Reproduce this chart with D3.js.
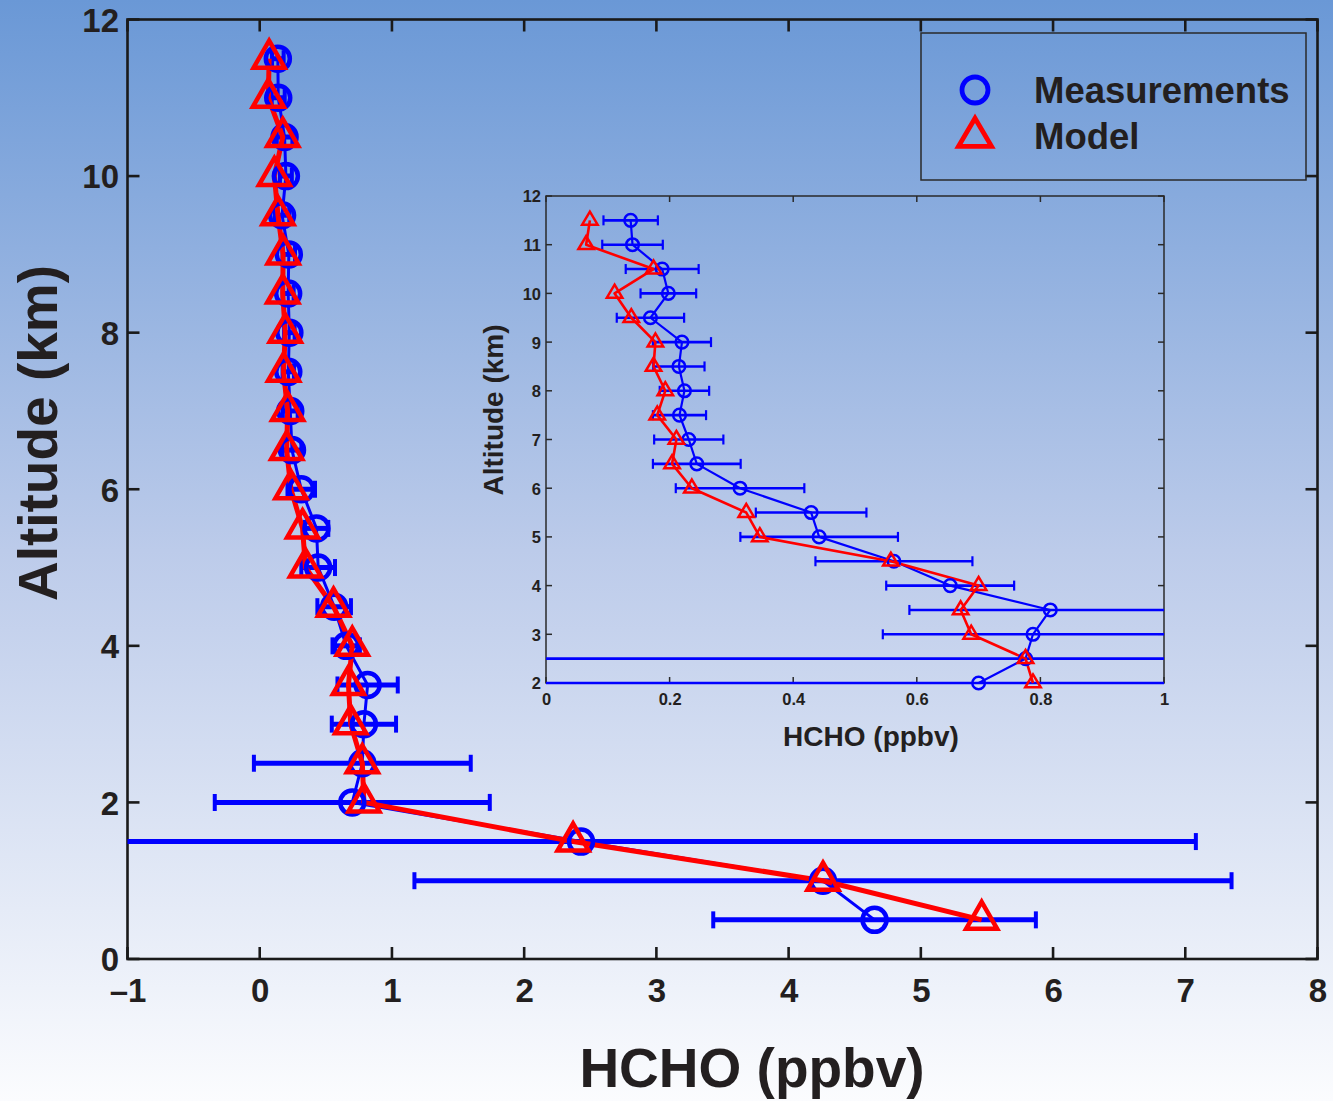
<!DOCTYPE html>
<html>
<head>
<meta charset="utf-8">
<script src="https://cdn.jsdelivr.net/npm/d3@7"></script>
<style>
  html, body { margin: 0; padding: 0; background: #ffffff; }
  svg { display: block; }
  text { font-family: "Liberation Sans", Arial, Helvetica, sans-serif; font-weight: bold; fill: #231f20; }
</style>
</head>
<body>
<svg id="chart" width="1333" height="1101"></svg>
<script>
// ---------------- DATA ----------------
const altitudes = [0.5, 1.0, 1.5, 2.0, 2.5, 3.0, 3.5, 4.0, 4.5, 5.0, 5.5, 6.0, 6.5, 7.0, 7.5, 8.0, 8.5, 9.0, 9.5, 10.0, 10.5, 11.0, 11.5];
const measurements = [4.65, 4.26, 2.43, 0.70, 0.776, 0.788, 0.816, 0.654, 0.563, 0.442, 0.429, 0.314, 0.244, 0.231, 0.216, 0.224, 0.215, 0.220, 0.169, 0.198, 0.188, 0.140, 0.137];
const measurementErrors = [1.22, 3.09, 4.65, 1.04, 0.82, 0.243, 0.228, 0.1035, 0.127, 0.1275, 0.0895, 0.104, 0.071, 0.056, 0.043, 0.040, 0.0415, 0.047, 0.0545, 0.045, 0.059, 0.049, 0.044];
const model = [5.46, 4.26, 2.37, 0.788, 0.776, 0.688, 0.671, 0.700, 0.558, 0.346, 0.324, 0.236, 0.204, 0.211, 0.180, 0.193, 0.174, 0.177, 0.138, 0.111, 0.174, 0.065, 0.071];

const mainXTicks = [-1, 0, 1, 2, 3, 4, 5, 6, 7, 8];
const mainYTicks = [0, 2, 4, 6, 8, 10, 12];
const insetXTicks = [0, 0.2, 0.4, 0.6, 0.8, 1];
const insetYTicks = [2, 3, 4, 5, 6, 7, 8, 9, 10, 11, 12];
const seriesNames = ["Measurements", "Model"];
const xLabel = "HCHO (ppbv)";
const yLabel = "Altitude (km)";

const rows = altitudes.map((a, i) => ({ alt: a, meas: measurements[i], err: measurementErrors[i], mod: model[i] }));

// ---------------- SETUP ----------------
const W = 1333, H = 1101;
const svg = d3.select("#chart");
const defs = svg.append("defs");
const grad = defs.append("linearGradient").attr("id", "bg").attr("x1", 0).attr("y1", 0).attr("x2", 0).attr("y2", 1);
grad.append("stop").attr("offset", "0%").attr("stop-color", "#6a98d6");
grad.append("stop").attr("offset", "50%").attr("stop-color", "#bccbea");
grad.append("stop").attr("offset", "100%").attr("stop-color", "#fbfcfe");
svg.append("rect").attr("width", W).attr("height", H).attr("fill", "url(#bg)");

const BLUE = "#0000ff", RED = "#ff0000", AX = "#1a1a1a";

function triPath(w, h) {
  return `M0,${-2 * h / 3}L${w / 2},${h / 3}L${-w / 2},${h / 3}Z`;
}

function drawPanel(g, x, y, data, opt) {
  const [x0, x1] = x.range(), [y0, y1] = y.range();
  const clipId = opt.id + "clip";
  defs.append("clipPath").attr("id", clipId).append("rect")
    .attr("x", x0).attr("y", y1 - opt.pad).attr("width", x1 - x0).attr("height", y0 - y1 + 2 * opt.pad);

  // axes box
  const ax = g.append("g");
  ax.append("rect").attr("x", x0).attr("y", y1).attr("width", x1 - x0).attr("height", y0 - y1)
    .attr("fill", "none").attr("stroke", opt.axColor).attr("stroke-width", opt.axW);

  // inward ticks, mirrored
  const xt = ax.append("g");
  opt.xTicks.forEach(t => {
    const px = x(t);
    xt.append("line").attr("x1", px).attr("x2", px).attr("y1", y0).attr("y2", y0 - opt.tickLen)
      .attr("stroke", opt.axColor).attr("stroke-width", opt.axW);
    xt.append("line").attr("x1", px).attr("x2", px).attr("y1", y1).attr("y2", y1 + opt.tickLen)
      .attr("stroke", opt.axColor).attr("stroke-width", opt.axW);
  });
  opt.yTicks.forEach(t => {
    const py = y(t);
    xt.append("line").attr("x1", x0).attr("x2", x0 + opt.tickLen).attr("y1", py).attr("y2", py)
      .attr("stroke", opt.axColor).attr("stroke-width", opt.axW);
    xt.append("line").attr("x1", x1).attr("x2", x1 - opt.tickLen).attr("y1", py).attr("y2", py)
      .attr("stroke", opt.axColor).attr("stroke-width", opt.axW);
  });

  // tick labels via d3 axes (lines hidden)
  const xAxis = d3.axisBottom(x).tickValues(opt.xTicks).tickSize(0).tickPadding(0).tickFormat(opt.xFmt);
  const xg = g.append("g").attr("transform", `translate(0,${opt.xLabBase})`).call(xAxis);
  xg.select(".domain").remove();
  xg.selectAll("text").attr("dy", 0).attr("y", 0).style("font-size", opt.tickFont + "px")
    .style("font-family", '"Liberation Sans", Arial, sans-serif').style("font-weight", "bold").attr("fill", "#231f20");

  const yAxis = d3.axisLeft(y).tickValues(opt.yTicks).tickSize(0).tickPadding(0);
  const yg = g.append("g").attr("transform", `translate(${opt.yLabRight},0)`).call(yAxis);
  yg.select(".domain").remove();
  yg.selectAll("text").attr("x", 0).attr("dy", (opt.tickFont * 0.36) + "px").style("font-size", opt.tickFont + "px")
    .style("font-family", '"Liberation Sans", Arial, sans-serif').style("font-weight", "bold").attr("fill", "#231f20");

  // axis titles
  g.append("text").attr("x", opt.xTitle[0]).attr("y", opt.xTitle[1]).attr("text-anchor", "middle")
    .style("font-size", opt.titleFont + "px").text(xLabel);
  g.append("text").attr("transform", `translate(${opt.yTitle[0]},${opt.yTitle[1]}) rotate(-90)`)
    .attr("text-anchor", "middle").style("font-size", opt.titleFont + "px").text(yLabel);

  // data
  const clipped = g.append("g").attr("clip-path", `url(#${clipId})`);
  // error bars
  const eb = clipped.append("g").attr("stroke", BLUE).attr("fill", "none");
  data.forEach(d => {
    const lo = x(d.meas - d.err), hi = x(d.meas + d.err), py = y(d.alt);
    eb.append("line").attr("x1", lo).attr("x2", hi).attr("y1", py).attr("y2", py).attr("stroke-width", opt.ebW);
    [lo, hi].forEach(px => eb.append("line").attr("x1", px).attr("x2", px)
      .attr("y1", py - opt.capH / 2).attr("y2", py + opt.capH / 2).attr("stroke-width", opt.capW));
  });
  // measurement line
  const lineM = d3.line().x(d => x(d.meas)).y(d => y(d.alt));
  clipped.append("path").datum(data).attr("d", lineM).attr("fill", "none").attr("stroke", BLUE)
    .attr("stroke-width", opt.blueLineW).attr("stroke-linejoin", "round");
  // circles
  g.append("g").selectAll("circle").data(data).join("circle")
    .attr("cx", d => x(d.meas)).attr("cy", d => y(d.alt)).attr("r", opt.r)
    .attr("fill", "none").attr("stroke", BLUE).attr("stroke-width", opt.markW);
  // model line
  const lineMod = d3.line().x(d => x(d.mod)).y(d => y(d.alt));
  clipped.append("path").datum(data).attr("d", lineMod).attr("fill", "none").attr("stroke", RED)
    .attr("stroke-width", opt.redLineW).attr("stroke-linejoin", "round");
  // triangles
  g.append("g").selectAll("path").data(data).join("path")
    .attr("transform", d => `translate(${x(d.mod)},${y(d.alt)})`)
    .attr("d", triPath(opt.triW, opt.triH))
    .attr("fill", "none").attr("stroke", RED).attr("stroke-width", opt.markW).attr("stroke-linejoin", "miter");
}

// ---------------- MAIN PANEL ----------------
const xMain = d3.scaleLinear().domain([-1, 8]).range([127.5, 1317.5]);
const yMain = d3.scaleLinear().domain([0, 12]).range([959, 19.5]);
drawPanel(svg.append("g"), xMain, yMain, rows, {
  id: "main", pad: 4, axColor: AX, axW: 2.6, tickLen: 12,
  xTicks: mainXTicks, yTicks: mainYTicks,
  xFmt: d => d < 0 ? "\u2013" + Math.abs(d) : String(d),
  xLabBase: 1002, yLabRight: 119, tickFont: 33,
  xTitle: [752, 1087], yTitle: [57, 433], titleFont: 55,
  ebW: 5, capH: 17, capW: 4, blueLineW: 3, redLineW: 5,
  r: 12, markW: 4.5, triW: 31, triH: 27
});

// ---------------- INSET PANEL ----------------
const xIn = d3.scaleLinear().domain([0, 1]).range([546, 1164]);
const yIn = d3.scaleLinear().domain([2, 12]).range([683, 196]);
drawPanel(svg.append("g"), xIn, yIn, rows.filter(d => d.alt >= 2), {
  id: "inset", pad: 2, axColor: "#2a2a2a", axW: 1.5, tickLen: 6,
  xTicks: insetXTicks, yTicks: insetYTicks,
  xFmt: d => String(d),
  xLabBase: 705, yLabRight: 541, tickFont: 16.5,
  xTitle: [871, 746], yTitle: [503, 410], titleFont: 28,
  ebW: 2.6, capH: 10, capW: 2.2, blueLineW: 2.2, redLineW: 2.6,
  r: 6.3, markW: 2.5, triW: 15.5, triH: 13
});

// ---------------- LEGEND ----------------
const lg = svg.append("g");
lg.append("rect").attr("x", 921).attr("y", 33).attr("width", 385).attr("height", 147)
  .attr("fill", "none").attr("stroke", "#2a2a2a").attr("stroke-width", 1.5);
lg.append("circle").attr("cx", 975).attr("cy", 90).attr("r", 13)
  .attr("fill", "none").attr("stroke", BLUE).attr("stroke-width", 4.8);
lg.append("path").attr("transform", "translate(975,137)").attr("d", triPath(33, 28))
  .attr("fill", "none").attr("stroke", RED).attr("stroke-width", 4.8).attr("stroke-linejoin", "miter");
lg.append("text").attr("x", 1034).attr("y", 103).style("font-size", "36.5px").text(seriesNames[0]);
lg.append("text").attr("x", 1034).attr("y", 149).style("font-size", "36.5px").text(seriesNames[1]);
</script>
</body>
</html>
